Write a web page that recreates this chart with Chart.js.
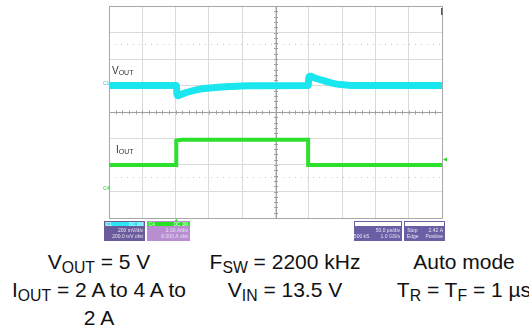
<!DOCTYPE html>
<html>
<head>
<meta charset="utf-8">
<script src="https://cdn.jsdelivr.net/npm/chart.js@4.4.1/dist/chart.umd.min.js"></script>
<style>
  html, body { margin: 0; padding: 0; background: #fff; overflow: hidden; }
  body { width: 529px; height: 332px; position: relative; font-family: "Liberation Sans", Arial, sans-serif; }
  #wrap { position: absolute; left: 0; top: 0; width: 529px; height: 245px; }
  .lbl { position: absolute; font-size: 10px; color: #333; }
  .lbl sub { font-size: 7px; vertical-align: -1px; line-height: 0; }
  .col { position: absolute; top: 248px; width: 190px; text-align: center; font-size: 21px; line-height: 28px; color: #111; white-space: nowrap; }
  .col sub { font-size: 0.75em; vertical-align: -0.28em; line-height: 0; }
</style>
</head>
<body>
<div id="wrap"><canvas id="scope" width="529" height="245"></canvas></div>
<div class="lbl" style="left:112px; top:65px;">V<sub>OUT</sub></div>
<div class="lbl" style="left:116px; top:144px;">I<sub>OUT</sub></div>

<div class="col" style="left:4px;">V<sub>OUT</sub> = 5 V<br>I<sub>OUT</sub> = 2 A to 4 A to<br>2 A</div>
<div class="col" style="left:190px;">F<sub>SW</sub> = 2200 kHz<br>V<sub>IN</sub> = 13.5 V</div>
<div class="col" style="left:369px;">Auto mode<br>T<sub>R</sub> = T<sub>F</sub> = 1 µs</div>

<script>
// ===== DATA (time in µs, 50 µs/div) =====
const voutTime = [0, 101, 102, 104, 107, 115, 125, 140, 160, 180, 210, 299, 300, 302, 310, 320, 330, 340, 355, 370, 500];
const voutV    = [5.0, 5.0, 4.935, 4.922, 4.93, 4.945, 4.96, 4.975, 4.985, 4.992, 4.998, 5.0, 5.06, 5.07, 5.055, 5.04, 5.025, 5.012, 5.004, 5.0, 5.0];

const ioutTime = [0, 101, 101, 110, 299, 299, 500];
const ioutA    = [2.0, 2.0, 3.85, 3.9, 3.9, 2.0, 2.0];

const timeDiv = 50;      // µs/div
const voutDiv = 0.2;     // V/div
const ioutDiv = 2;       // A/div
const triggerLevel = 2.42;
const triggerTime = 101;
const refLevels = [5.313, 4.31];   // dotted reference lines (V scale)

const infoBoxes = [
  { head: 'C1', tag: 'DC 1M', lines: ['200 mV/div', '200.0 mV ofst'] },
  { head: 'C4', tag: 'DC 1M', lines: ['2.00 A/div', '6.000 A ofst'] },
  { head: '', tag: '', lines: ['50.0 µs/div', '500 kS        1.0 GS/s'] },
  { head: '', tag: '', lines: ['Stop        2.42 A', 'Edge     Positive'] }
];

const toPts = (xs, ys) => xs.map((x, i) => ({ x, y: ys[i] }));

// ===== SCOPE DECORATION =====
const scopePlugin = {
  id: 'scope',
  beforeDatasetsDraw(chart) {
    const { ctx, chartArea: a, scales } = chart;
    const cx = (a.left + a.right) / 2;
    const cy = (a.top + a.bottom) / 2;
    ctx.save();
    // dotted reference lines
    ctx.strokeStyle = '#c8c8c8';
    ctx.lineWidth = 1;
    ctx.setLineDash([1, 5]);
    refLevels.forEach(v => {
      const y = Math.round(scales.y.getPixelForValue(v)) + 0.5;
      ctx.beginPath(); ctx.moveTo(a.left, y); ctx.lineTo(a.right, y); ctx.stroke();
    });
    ctx.setLineDash([]);
    // centre cross with minor ticks
    ctx.strokeStyle = '#a0a0a0';
    ctx.beginPath();
    ctx.moveTo(a.left, Math.round(cy) + 0.5); ctx.lineTo(a.right, Math.round(cy) + 0.5);
    ctx.moveTo(Math.round(cx) + 0.5, a.top); ctx.lineTo(Math.round(cx) + 0.5, a.bottom);
    const dx = (a.right - a.left) / 50, dy = (a.bottom - a.top) / 40;
    for (let i = 1; i < 50; i++) {
      const x = Math.round(a.left + i * dx) + 0.5;
      ctx.moveTo(x, cy - 1.5); ctx.lineTo(x, cy + 2.5);
    }
    for (let i = 1; i < 40; i++) {
      const y = Math.round(a.top + i * dy) + 0.5;
      ctx.moveTo(cx - 1.5, y); ctx.lineTo(cx + 2.5, y);
    }
    ctx.stroke();
    // frame
    ctx.strokeStyle = '#a8a8a8';
    ctx.strokeRect(Math.round(a.left) + 0.5, Math.round(a.top) + 0.5, Math.round(a.right - a.left), Math.round(a.bottom - a.top));
    ctx.restore();
  },
  afterDraw(chart) {
    const { ctx, chartArea: a, scales } = chart;
    ctx.save();
    // channel ground markers
    ctx.font = '5px "Liberation Sans", Arial';
    ctx.fillStyle = '#19d6e6';
    ctx.fillText('C1', a.left - 6, scales.y.getPixelForValue(5.0) - 1);
    ctx.fillStyle = '#2bd42b';
    ctx.fillText('C4', a.left - 6, scales.y2.getPixelForValue(0) - 2);
    // trigger level arrow (right) and trigger position (bottom)
    ctx.fillStyle = '#2bd42b';
    const ty = scales.y2.getPixelForValue(triggerLevel);
    ctx.beginPath(); ctx.moveTo(a.right + 1, ty); ctx.lineTo(a.right + 5, ty - 2); ctx.lineTo(a.right + 5, ty + 2); ctx.fill();
    const tx = scales.x.getPixelForValue(triggerTime);
    ctx.beginPath(); ctx.moveTo(tx, a.bottom + 0.5); ctx.lineTo(tx - 2, a.bottom + 4); ctx.lineTo(tx + 2, a.bottom + 4); ctx.fill();
    // top-right position mark
    ctx.fillStyle = '#555';
    ctx.fillRect(a.right - 1, a.top + 2, 1.5, 7);

    // info boxes
    const boxes = [
      { x: 104, w: 41, head: '#2ee6f2', body: '#6a5c9c' },
      { x: 147, w: 43, head: '#25e025', body: '#b98ed0' },
      { x: 354, w: 48, head: '#ffffff', body: '#6a5ea4' },
      { x: 404, w: 41, head: '#ffffff', body: '#6a5ea4' }
    ];
    const by = a.bottom + 3, bh = 20;
    boxes.forEach((b, i) => {
      const info = infoBoxes[i];
      ctx.fillStyle = b.body;
      ctx.fillRect(b.x, by, b.w, bh);
      ctx.fillStyle = b.head;
      ctx.fillRect(b.x + 1, by + 1, b.w - 2, 4);
      ctx.font = '4.5px "Liberation Sans", Arial';
      ctx.fillStyle = '#ffffff';
      ctx.textAlign = 'left';
      if (info.head) ctx.fillText(info.head, b.x + 2, by + 4.5);
      ctx.textAlign = 'right';
      if (info.tag) ctx.fillText(info.tag, b.x + b.w - 2, by + 4.5);
      ctx.font = '5px "Liberation Sans", Arial';
      ctx.fillStyle = '#e8e4f4';
      ctx.fillText(info.lines[0], b.x + b.w - 2, by + 11);
      ctx.fillText(info.lines[1], b.x + b.w - 2, by + 17);
    });
    ctx.restore();
  }
};

const gridOpts = { color: '#dadada', drawTicks: false };

new Chart(document.getElementById('scope'), {
  type: 'line',
  data: {
    datasets: [
      {
        label: 'VOUT',
        data: toPts(voutTime, voutV),
        yAxisID: 'y',
        borderColor: '#1ae6f0',
        borderWidth: 7,
        pointRadius: 0,
        cubicInterpolationMode: 'monotone'
      },
      {
        label: 'IOUT',
        data: toPts(ioutTime, ioutA),
        yAxisID: 'y2',
        borderColor: '#2ee02e',
        borderWidth: 4,
        pointRadius: 0,
        tension: 0
      }
    ]
  },
  options: {
    responsive: false,
    animation: false,
    devicePixelRatio: 1,
    layout: { padding: { left: 109, right: 87, top: 6, bottom: 27 } },
    plugins: { legend: { display: false }, tooltip: { enabled: false } },
    scales: {
      x: {
        type: 'linear', min: 0, max: 10 * timeDiv,
        ticks: { display: false, stepSize: timeDiv },
        grid: gridOpts, border: { display: false }
      },
      y: {
        min: 4.0, max: 4.0 + 8 * voutDiv,
        ticks: { display: false, stepSize: voutDiv },
        grid: gridOpts, border: { display: false }
      },
      y2: {
        display: false, min: -2, max: -2 + 8 * ioutDiv
      }
    }
  },
  plugins: [scopePlugin]
});
</script>
</body>
</html>
